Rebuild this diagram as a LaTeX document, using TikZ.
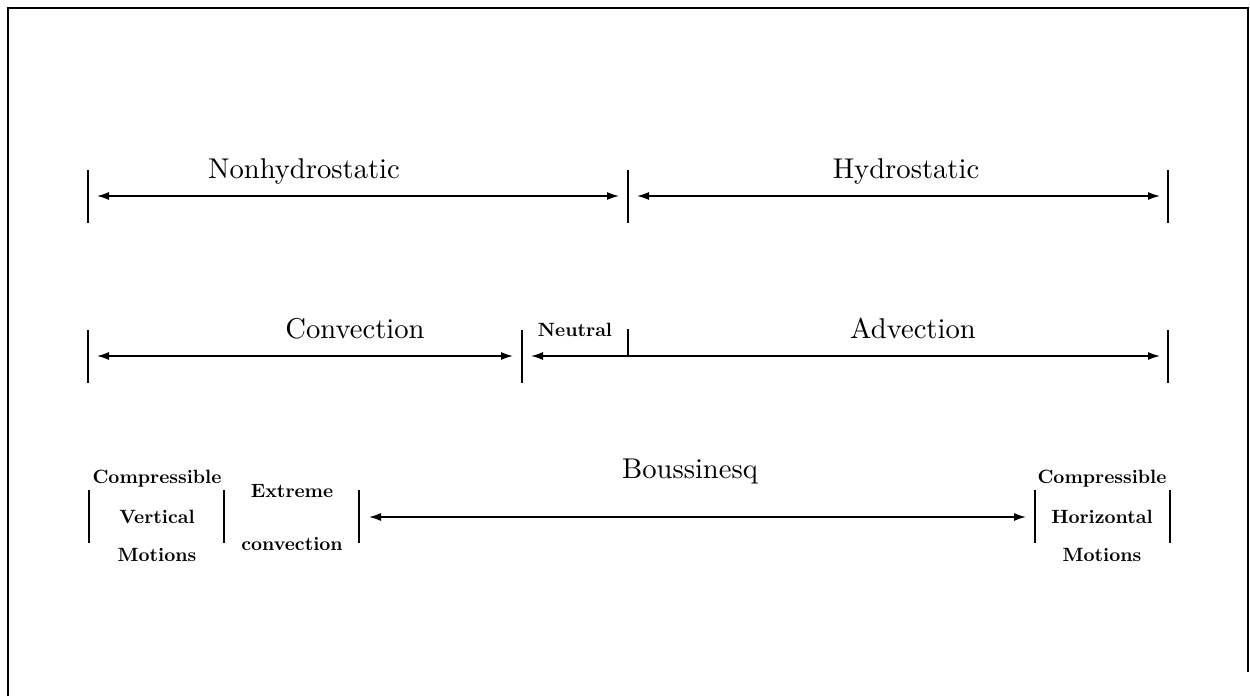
\documentclass[tikz,border=0pt]{standalone}
\usetikzlibrary{arrows.meta}
\newcommand{\bigtxt}[1]{\scalebox{2.86}{\fontsize{10}{12}\selectfont #1}}
\newcommand{\smalltxt}[1]{\scalebox{1.92}{\fontsize{10}{12}\selectfont\bfseries #1}}
\begin{document}
\begin{tikzpicture}[x=1pt,y=-1pt,
  frame/.style={line width=1.6pt},
  tick/.style={line width=1.6pt},
  arr/.style={line width=1.5pt,{Latex[length=12pt,width=8pt]}-{Latex[length=12pt,width=8pt]}},
  big/.style={anchor=base,inner sep=0pt},
  small/.style={anchor=base,inner sep=0pt}]
\useasboundingbox (0,0) rectangle (1250,696);
% frame
\coordinate (fbl) at (8,696);
\coordinate (ftl) at (8,8);
\coordinate (ftr) at (1248,8);
\coordinate (fbr) at (1248,672);
\draw[frame] (fbl) -- (ftl) -- (ftr) -- (fbr);
% ---------- row 1
\foreach \n/\x in {r1a/88,r1b/628,r1c/1168}{
  \coordinate (\n t) at (\x,170);
  \coordinate (\n b) at (\x,223);
  \draw[tick] (\n t) -- (\n b);
}
\coordinate (a1l) at (97,196);
\coordinate (a1r) at (619,196);
\coordinate (a2l) at (637,196);
\coordinate (a2r) at (1160,196);
\draw[arr] (a1l) -- (a1r);
\draw[arr] (a2l) -- (a2r);
\node[big] (nonhyd) at (304,178) {\bigtxt{Nonhydrostatic}};
\node[big] (hyd) at (906,178) {\bigtxt{Hydrostatic}};
% ---------- row 2
\foreach \n/\x in {r2a/88,r2b/522,r2c/1168}{
  \coordinate (\n t) at (\x,330);
  \coordinate (\n b) at (\x,383);
  \draw[tick] (\n t) -- (\n b);
}
\coordinate (nt) at (628,329);
\coordinate (nb) at (628,356);
\draw[tick] (nt) -- (nb);
\coordinate (b1l) at (97,356);
\coordinate (b1r) at (513,356);
\coordinate (b2l) at (531,356);
\coordinate (b2r) at (1160,356);
\draw[arr] (b1l) -- (b1r);
\draw[arr] (b2l) -- (b2r);
\node[big] (conv) at (355,338) {\bigtxt{Convection}};
\node[small] (neutral) at (575,336) {\smalltxt{Neutral}};
\node[big] (adv) at (913,338) {\bigtxt{Advection}};
% ---------- row 3
\foreach \n/\x in {r3a/89,r3b/224,r3c/359,r3d/1035,r3e/1170}{
  \coordinate (\n t) at (\x,490);
  \coordinate (\n b) at (\x,543);
  \draw[tick] (\n t) -- (\n b);
}
\coordinate (c1l) at (369,517);
\coordinate (c1r) at (1026,517);
\draw[arr] (c1l) -- (c1r);
\node[big] (bous) at (690,478) {\bigtxt{Boussinesq}};
\node[small] (cv1) at (157,483) {\smalltxt{Compressible}};
\node[small] (cv2) at (157,523) {\smalltxt{Vertical}};
\node[small] (cv3) at (157,561) {\smalltxt{Motions}};
\node[small] (ex1) at (292,497) {\smalltxt{Extreme}};
\node[small] (ex2) at (292,550) {\smalltxt{convection}};
\node[small] (ch1) at (1102,483) {\smalltxt{Compressible}};
\node[small] (ch2) at (1102,523) {\smalltxt{Horizontal}};
\node[small] (ch3) at (1102,561) {\smalltxt{Motions}};
\end{tikzpicture}
\end{document}
